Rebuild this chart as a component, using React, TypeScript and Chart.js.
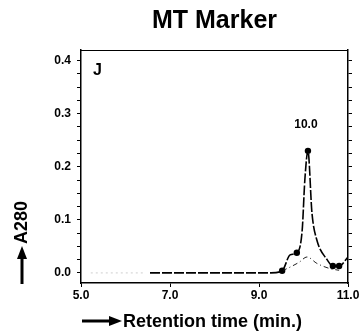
import React, { useEffect, useRef } from "react";
import { Chart, registerables } from "chart.js";

Chart.register(...registerables);

// ---- data ----
const titleText = "MT Marker";
const panelLabel = "J";
const peakLabel = "10.0";
const xTitle = "Retention time (min.)";
const yTitle = "A280";

const xTickValues = [5, 7, 9, 11];
const yTickValues = [0, 0.025, 0.05, 0.075, 0.1, 0.125, 0.15, 0.175, 0.2, 0.225, 0.25, 0.275, 0.3, 0.325, 0.35, 0.375, 0.4];
const yLabelValues = [0, 0.1, 0.2, 0.3, 0.4];

const mainX = [6.55, 9.27, 9.52, 9.7, 9.85, 9.97, 10.03, 10.1, 10.19, 10.3, 10.53, 10.66, 10.8, 11.0];
const mainY = [0, 0, 0.004, 0.034, 0.038, 0.08, 0.175, 0.23, 0.113, 0.062, 0.025, 0.013, 0.013, 0.03];

const markerX = [9.52, 9.85, 10.1, 10.66, 10.8];
const markerY = [0.004, 0.038, 0.23, 0.013, 0.013];

const subX = [9.52, 9.7, 9.9, 10.08, 10.3, 10.6, 10.8];
const subY = [0.004, 0.011, 0.02, 0.03, 0.018, 0.008, 0.005];

const faintX = [5.22, 6.44];
const faintY = [0, 0];

const peakX = 10.1;
const peakY = 0.23;

const FONT = "'Liberation Sans', Arial, Helvetica, sans-serif";

const zip = (xs: number[], ys: number[]) => xs.map((x, i) => ({ x, y: ys[i] }));

const decorPlugin = {
  id: "decor",
  afterDraw(chart: any) {
    const ctx = chart.ctx as CanvasRenderingContext2D;
    const { left, top, right } = chart.chartArea;
    const xs = chart.scales.x;
    const ys = chart.scales.y;
    ctx.save();
    ctx.fillStyle = "#000";
    ctx.strokeStyle = "#000";
    // top frame line
    ctx.lineWidth = 1;
    ctx.beginPath();
    ctx.moveTo(left, Math.round(top) + 0.5);
    ctx.lineTo(right, Math.round(top) + 0.5);
    ctx.stroke();

    // panel label
    ctx.font = `bold 16px ${FONT}`;
    ctx.textAlign = "left";
    ctx.textBaseline = "alphabetic";
    ctx.fillText(panelLabel, left + 12, top + 25);

    // peak label
    const px = xs.getPixelForValue(peakX);
    const py = ys.getPixelForValue(peakY);
    ctx.font = `bold 12px ${FONT}`;
    ctx.textAlign = "center";
    ctx.textBaseline = "middle";
    ctx.fillText(peakLabel, px - 2, py - 26);

    // x title with arrow
    ctx.font = `bold 18px ${FONT}`;
    ctx.textAlign = "left";
    ctx.textBaseline = "alphabetic";
    ctx.fillText(xTitle, 123, 327);
    ctx.lineWidth = 3;
    ctx.beginPath();
    ctx.moveTo(82, 321);
    ctx.lineTo(112, 321);
    ctx.stroke();
    ctx.beginPath();
    ctx.moveTo(122, 321);
    ctx.lineTo(109, 316);
    ctx.lineTo(109, 326);
    ctx.closePath();
    ctx.fill();

    // y title with arrow
    ctx.save();
    ctx.translate(22, 244);
    ctx.rotate(-Math.PI / 2);
    ctx.font = `bold 18px ${FONT}`;
    ctx.textAlign = "left";
    ctx.textBaseline = "middle";
    ctx.fillText(yTitle, 0, 0);
    ctx.restore();
    ctx.lineWidth = 3;
    ctx.beginPath();
    ctx.moveTo(22, 284);
    ctx.lineTo(22, 256);
    ctx.stroke();
    ctx.beginPath();
    ctx.moveTo(22, 246);
    ctx.lineTo(17, 259);
    ctx.lineTo(27, 259);
    ctx.closePath();
    ctx.fill();
    ctx.restore();
  },
};

export default function App() {
  const ref = useRef<HTMLCanvasElement>(null);

  useEffect(() => {
    if (!ref.current) return;
    const chart = new Chart(ref.current, {
      type: "scatter",
      data: {
        datasets: [
          {
            data: zip(faintX, faintY),
            showLine: true,
            borderColor: "#cfcfcf",
            borderWidth: 1,
            borderDash: [2, 3],
            pointRadius: 0,
          },
          {
            data: zip(mainX, mainY),
            showLine: true,
            borderColor: "#000",
            borderWidth: 1.6,
            borderDash: [10, 2],
            cubicInterpolationMode: "monotone",
            pointRadius: 0,
          },
          {
            data: zip(subX, subY),
            showLine: true,
            borderColor: "#222",
            borderWidth: 1,
            borderDash: [5, 3, 1, 3],
            cubicInterpolationMode: "monotone",
            pointRadius: 0,
          },
          {
            data: zip(markerX, markerY),
            showLine: false,
            pointRadius: 3.2,
            pointBackgroundColor: "#000",
            pointBorderColor: "#000",
            pointBorderWidth: 0,
          },
        ],
      },
      options: {
        responsive: false,
        animation: false,
        devicePixelRatio: 1,
        layout: { padding: { left: 0, right: 0, top: 0, bottom: 0 } },
        plugins: {
          legend: { display: false },
          tooltip: { enabled: false },
          title: {
            display: true,
            text: titleText,
            fullSize: false,
            color: "#000",
            font: { family: FONT, size: 25, weight: "bold" },
            padding: { top: 6, bottom: 14 },
          },
        },
        scales: {
          x: {
            type: "linear",
            min: 5,
            max: 11,
            afterBuildTicks: (s: any) => {
              s.ticks = xTickValues.map((v) => ({ value: v }));
            },
            afterFit: (s: any) => {
              s.height = 51;
            },
            grid: { drawOnChartArea: false, drawTicks: true, tickLength: 4, color: "#000" },
            border: { display: true, color: "#000", width: 1.5 },
            ticks: {
              color: "#000",
              padding: 1,
              maxRotation: 0,
              font: { family: FONT, size: 12, weight: "bold" },
              callback: (v: any) => Number(v).toFixed(1),
            },
          },
          y: {
            type: "linear",
            position: "left",
            min: -0.019,
            max: 0.42,
            afterBuildTicks: (s: any) => {
              s.ticks = yTickValues.map((v) => ({ value: v }));
            },
            afterFit: (s: any) => {
              s.width = 81;
            },
            grid: { drawOnChartArea: false, drawTicks: true, tickLength: 4, color: "#000" },
            border: { display: true, color: "#000", width: 1.5 },
            ticks: {
              color: "#000",
              padding: 6,
              autoSkip: false,
              font: { family: FONT, size: 12, weight: "bold" },
              callback: (v: any) => {
                const n = Number(v);
                return yLabelValues.some((l) => Math.abs(l - n) < 1e-6) ? n.toFixed(1) : "";
              },
            },
          },
          y2: {
            type: "linear",
            position: "right",
            min: -0.019,
            max: 0.42,
            afterBuildTicks: (s: any) => {
              s.ticks = yTickValues.map((v) => ({ value: v }));
            },
            afterFit: (s: any) => {
              s.width = 15;
            },
            grid: { drawOnChartArea: false, drawTicks: true, tickLength: 4, color: "#000" },
            border: { display: true, color: "#000", width: 1.5 },
            ticks: { display: true, color: "rgba(0,0,0,0)", autoSkip: false, callback: () => "" },
          },
        },
      },
      plugins: [decorPlugin],
    } as any);
    return () => chart.destroy();
  }, []);

  return (
    <div style={{ position: "fixed", left: 0, top: 0, width: 363, height: 334, background: "#fff" }}>
      <canvas ref={ref} width={363} height={334} />
    </div>
  );
}
